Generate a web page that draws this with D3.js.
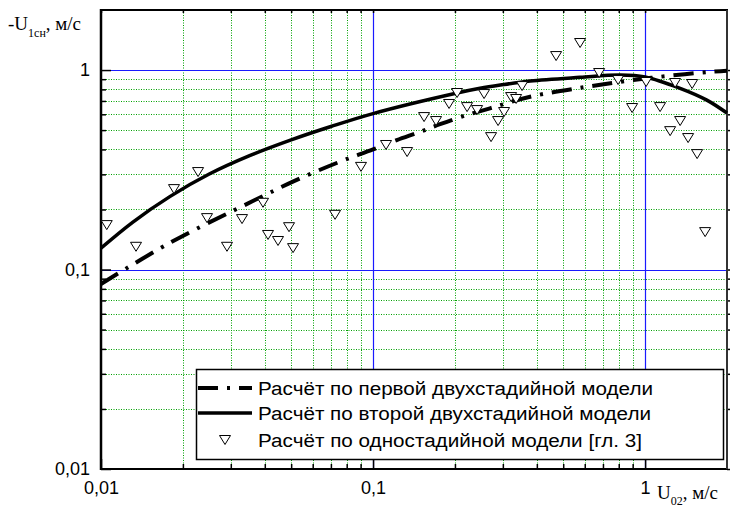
<!DOCTYPE html>
<html lang="ru">
<head>
<meta charset="UTF-8">
<title>U1сн от U02</title>
<script src="https://cdn.jsdelivr.net/npm/d3@7/dist/d3.min.js"></script>
<style>
  body { margin: 0; background: #fff; }
  text { font-family: "Liberation Sans", Arial, sans-serif; }
  .ttl { font-family: "Liberation Serif", "Times New Roman", serif; }
</style>
</head>
<body>
<script>
var majorTicks = [0.01, 0.1, 1];
var tickLabels = ["0,01", "0,1", "1"];
var minorTicks = [0.02, 0.03, 0.04, 0.05, 0.06, 0.07, 0.08, 0.09,
                  0.2, 0.3, 0.4, 0.5, 0.6, 0.7, 0.8, 0.9];

// первая двухстадийная модель (штрихпунктир)
var model1X = [0.01, 0.0179, 0.0363, 0.0517, 0.0739, 0.1, 0.1222, 0.1489, 0.1763, 0.212, 0.269, 0.378, 0.593, 0.905, 1.2, 1.73, 2.0];
var model1Y = [0.0846, 0.136, 0.221, 0.279, 0.343, 0.40, 0.445, 0.49, 0.535, 0.584, 0.643, 0.735, 0.819, 0.891, 0.933, 0.98, 0.993];

// вторая двухстадийная модель (сплошная)
var model2X = [0.01, 0.0131, 0.0179, 0.025, 0.035, 0.05, 0.07, 0.1, 0.2036, 0.2473, 0.2935, 0.378, 0.576, 0.809, 1.0, 1.345, 1.686, 2.0];
var model2Y = [0.128, 0.173, 0.232, 0.301, 0.371, 0.4465, 0.521, 0.605, 0.767, 0.81, 0.841, 0.881, 0.919, 0.944, 0.923, 0.81, 0.707, 0.609];

// одностадийная модель (треугольники)
var pointsX = [0.0105, 0.01345, 0.01855, 0.02274, 0.02453, 0.02905, 0.03299, 0.03941, 0.04111, 0.04474,
               0.04911, 0.05081, 0.07251, 0.0903, 0.1116, 0.1334, 0.154, 0.1704, 0.1903, 0.2036,
               0.2216, 0.2412, 0.2559, 0.2715, 0.2881, 0.3031, 0.3217, 0.3356, 0.353, 0.4708,
               0.5768, 0.6776, 0.7957, 0.8959, 1.0085, 1.135, 1.236, 1.289, 1.345, 1.439,
               1.489, 1.553, 1.662];
var pointsY = [0.167, 0.130, 0.253, 0.308, 0.181, 0.130, 0.179, 0.216, 0.149, 0.139,
               0.163, 0.128, 0.188, 0.327, 0.421, 0.388, 0.581, 0.555, 0.676, 0.767,
               0.652, 0.630, 0.758, 0.461, 0.555, 0.616, 0.732, 0.716, 0.831, 1.175,
               1.366, 0.966, 0.891, 0.645, 0.871, 0.652, 0.494, 0.861, 0.555, 0.456,
               0.851, 0.379, 0.154];

var legendLabels = ["Расчёт по первой двухстадийной модели",
                    "Расчёт по второй двухстадийной модели",
                    "Расчёт по одностадийной модели [гл. 3]"];

var width = 740, height = 512;
var pLeft = 101, pRight = 727, pTop = 10, pBottom = 469;

var svg = d3.select("body").append("svg").attr("width", width).attr("height", height);

var x = d3.scaleLog().domain([0.01, 2]).range([pLeft, pRight]);
var y = d3.scaleLog().domain([0.01, 2]).range([pBottom, pTop]);

// сетка: дополнительные линии зелёным пунктиром
svg.selectAll(".gx").data(minorTicks).enter().append("line")
    .attr("x1", function(d){ return Math.round(x(d)) + 0.5; })
    .attr("x2", function(d){ return Math.round(x(d)) + 0.5; })
    .attr("y1", pTop).attr("y2", pBottom)
    .attr("stroke", "#00a000").attr("stroke-dasharray", "1,1.5");
svg.selectAll(".gy").data(minorTicks).enter().append("line")
    .attr("y1", function(d){ return Math.round(y(d)) + 0.5; })
    .attr("y2", function(d){ return Math.round(y(d)) + 0.5; })
    .attr("x1", pLeft).attr("x2", pRight)
    .attr("stroke", "#00a000").attr("stroke-dasharray", "1,1.5");
// основные линии синим
svg.selectAll(".bx").data([0.1, 1]).enter().append("line")
    .attr("x1", function(d){ return Math.round(x(d)) + 0.5; })
    .attr("x2", function(d){ return Math.round(x(d)) + 0.5; })
    .attr("y1", pTop).attr("y2", pBottom)
    .attr("stroke", "#1a1aff").attr("stroke-width", 1.2);
svg.selectAll(".by").data([0.1, 1]).enter().append("line")
    .attr("y1", function(d){ return Math.round(y(d)) + 0.5; })
    .attr("y2", function(d){ return Math.round(y(d)) + 0.5; })
    .attr("x1", pLeft).attr("x2", pRight)
    .attr("stroke", "#1a1aff").attr("stroke-width", 1.2);

// оси
function styleAxis(g) {
    g.select(".domain").remove();
    g.selectAll(".tick line").attr("stroke", "#000").attr("stroke-width", 1.5);
    g.selectAll(".tick text").attr("font-size", 18).attr("fill", "#000")
        .style("font-family", "'Liberation Sans', Arial, sans-serif");
}
var fmt = function(d){ return tickLabels[majorTicks.indexOf(d)]; };

svg.append("g").attr("transform", "translate(" + pLeft + ",0)")
    .call(d3.axisLeft(y).tickValues(majorTicks).tickFormat(fmt).tickSize(-10).tickPadding(11))
    .call(styleAxis);
svg.append("g").attr("transform", "translate(" + pLeft + ",0)")
    .call(d3.axisLeft(y).tickValues(minorTicks).tickFormat("").tickSize(-5))
    .call(styleAxis);
svg.append("g").attr("transform", "translate(0," + pBottom + ")")
    .call(d3.axisBottom(x).tickValues(majorTicks).tickFormat(fmt).tickSize(-10).tickPadding(12))
    .call(styleAxis);
svg.append("g").attr("transform", "translate(0," + pBottom + ")")
    .call(d3.axisBottom(x).tickValues(minorTicks).tickFormat("").tickSize(-5))
    .call(styleAxis);
svg.append("g").attr("transform", "translate(0," + pTop + ")")
    .call(d3.axisTop(x).tickValues(majorTicks.concat(minorTicks)).tickFormat("").tickSize(-3))
    .call(styleAxis);
svg.append("g").attr("transform", "translate(" + pRight + ",0)")
    .call(d3.axisRight(y).tickValues(majorTicks.concat(minorTicks)).tickFormat("").tickSize(3))
    .call(styleAxis);

// рамка
svg.append("line").attr("x1", pLeft).attr("x2", pLeft).attr("y1", pTop - 1).attr("y2", pBottom + 1)
    .attr("stroke", "#000").attr("stroke-width", 2.5);
svg.append("line").attr("x1", pLeft).attr("x2", pRight).attr("y1", pBottom).attr("y2", pBottom)
    .attr("stroke", "#000").attr("stroke-width", 2);
svg.append("line").attr("x1", pLeft).attr("x2", pRight + 1).attr("y1", pTop).attr("y2", pTop)
    .attr("stroke", "#000").attr("stroke-width", 2);
svg.append("line").attr("x1", pRight).attr("x2", pRight).attr("y1", pTop).attr("y2", pBottom)
    .attr("stroke", "#333").attr("stroke-width", 2);

// кривые
var line = d3.line()
    .x(function(d){ return x(d[0]); })
    .y(function(d){ return y(d[1]); })
    .curve(d3.curveCatmullRom.alpha(0.5));

var model1 = d3.zip(model1X, model1Y);
var model2 = d3.zip(model2X, model2Y);

svg.append("path").datum(model1).attr("d", line)
    .attr("fill", "none").attr("stroke", "#000").attr("stroke-width", 4)
    .attr("stroke-dasharray", "20,9,3,9");
svg.append("path").datum(model2).attr("d", line)
    .attr("fill", "none").attr("stroke", "#000").attr("stroke-width", 3.5);

// треугольники
var tri = "M-5.5,-4.5L5.5,-4.5L0,4.5Z";
svg.selectAll(".pt").data(d3.zip(pointsX, pointsY)).enter().append("path")
    .attr("d", tri)
    .attr("transform", function(d){ return "translate(" + x(d[0]) + "," + y(d[1]) + ")"; })
    .attr("fill", "#fff").attr("stroke", "#000").attr("stroke-width", 1);

// легенда
var lg = svg.append("g");
lg.append("rect").attr("x", 196.5).attr("y", 369.5).attr("width", 527).attr("height", 90)
    .attr("fill", "#fff").attr("stroke", "#000").attr("stroke-width", 1.5);
var rowY = [388, 413, 440];
var textW = [395, 393, 384];
lg.append("line").attr("x1", 198).attr("x2", 252).attr("y1", rowY[0]).attr("y2", rowY[0])
    .attr("stroke", "#000").attr("stroke-width", 4).attr("stroke-dasharray", "20,9,3,9");
lg.append("line").attr("x1", 198).attr("x2", 252).attr("y1", rowY[1]).attr("y2", rowY[1])
    .attr("stroke", "#000").attr("stroke-width", 3.5);
lg.append("path").attr("d", tri).attr("transform", "translate(225," + rowY[2] + ")")
    .attr("fill", "#fff").attr("stroke", "#000");
legendLabels.forEach(function(t, i){
    lg.append("text").attr("x", 258).attr("y", rowY[i] + 6.5)
        .attr("font-size", 18).attr("textLength", textW[i]).attr("lengthAdjust", "spacingAndGlyphs")
        .text(t);
});

// подписи осей
var yt = svg.append("text").attr("class", "ttl").attr("x", 8).attr("y", 30).attr("font-size", 19);
yt.append("tspan").text("-U");
yt.append("tspan").attr("font-size", 12).attr("dy", 7).text("1сн");
yt.append("tspan").attr("dy", -7).text(", м/с");

var xt = svg.append("text").attr("class", "ttl").attr("x", 657).attr("y", 499).attr("font-size", 19);
xt.append("tspan").text("U");
xt.append("tspan").attr("font-size", 12).attr("dy", 6).text("02");
xt.append("tspan").attr("dy", -6).text(", м/с");
</script>
</body>
</html>
